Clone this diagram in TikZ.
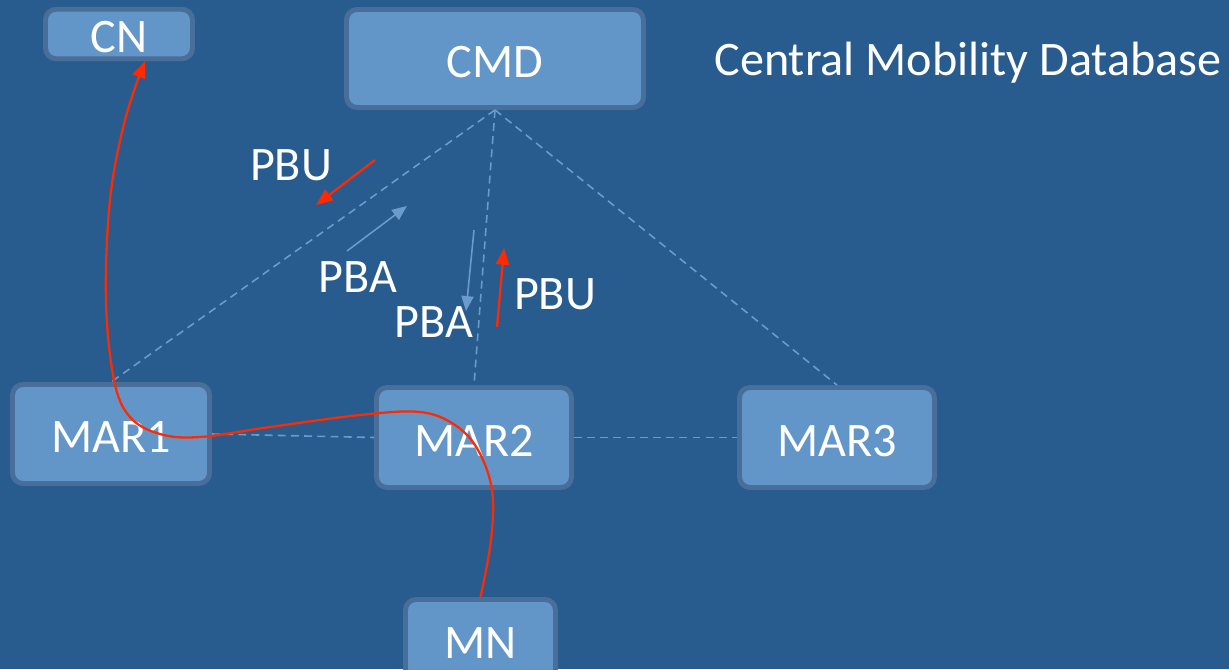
\documentclass[tikz,border=0pt]{standalone}
\usepackage{fontspec}
\setmainfont{Carlito}
\usetikzlibrary{arrows.meta}
\definecolor{bgblue}{HTML}{285C8F}
\definecolor{boxfill}{HTML}{6296C8}
\definecolor{boxline}{HTML}{4A6E9A}
\definecolor{linkblue}{HTML}{6A9BCB}
\definecolor{flowred}{HTML}{FF2A00}

\begin{document}
\begin{tikzpicture}[x=0.02cm,y=-0.02cm]
\tikzstyle{box}=[draw=boxline,fill=boxfill,line width=2.8pt,rounded corners=6pt,text=white,text height=21.5pt,text depth=0pt,font=\fontsize{27.4}{32}\selectfont]
\tikzstyle{lbl}=[text=white,inner sep=0pt,font=\fontsize{27.4}{32}\selectfont]
\tikzstyle{link}=[draw=linkblue,line width=0.9pt,dash pattern=on 4.5pt off 3pt]
\tikzstyle{redarr}=[draw=flowred,line width=1.3pt,-{Triangle[length=9.5pt,width=7.5pt]}]
\tikzstyle{bluearr}=[draw=linkblue,line width=0.9pt,-{Triangle[length=8.5pt,width=7pt]}]
\useasboundingbox (0,0) rectangle (1229,669);
\fill[bgblue] (0,0) rectangle (1229,669);
% nodes
\path (119,34) node[box,minimum width=2.94cm,minimum height=0.98cm](cn){CN}
  (495,58.5) node[box,minimum width=5.94cm,minimum height=1.96cm](cmd){CMD}
  (111,434) node[box,minimum width=3.94cm,minimum height=1.98cm](mar1){MAR1}
  (474,437.5) node[box,minimum width=3.9cm,minimum height=2cm](mar2){MAR2}
  (837,437.5) node[box,minimum width=3.9cm,minimum height=2cm](mar3){MAR3}
  (480.5,639.5) node[box,minimum width=3cm,minimum height=1.6cm](mn){MN};
\node[lbl] (cmdname) at (968,63) {Central Mobility Database};
% dashed links
\draw[link] (cmd.south) -- (mar1.north);
\draw[link] (cmd.south) -- (mar2.north);
\draw[link] (cmd.south) -- (mar3.north);
\draw[link] (mar1.east) -- (mar2.west);
\draw[link] (mar2.east) -- (mar3.west);
% messages
\node[lbl] (pbu1) at (291,165) {PBU};
\node[lbl] (pba1) at (358,277) {PBA};
\node[lbl] (pba2) at (434,322) {PBA};
\node[lbl] (pbu2) at (555,294) {PBU};
\coordinate (u1a) at (375,160); \coordinate (u1b) at (316,205);
\coordinate (a1a) at (347,251); \coordinate (a1b) at (407,206);
\coordinate (a2a) at (474,230); \coordinate (a2b) at (466,311);
\coordinate (u2a) at (497,327); \coordinate (u2b) at (504,248);
\draw[redarr] (u1a) -- (u1b);
\draw[bluearr] (a1a) -- (a1b);
\draw[bluearr] (a2a) -- (a2b);
\draw[redarr] (u2a) -- (u2b);
% data path MN -> CN
\coordinate (cntip) at ([xshift=0.52cm]cn.south);
\draw[redarr] plot[smooth,tension=0.6] coordinates {(mn.north) (491,540) (492,490) (478,450) (455,425) (420,412) (360,415) (270,427) (200,437) (160,434) (130,417) (114,380) (106,300) (110,200) (125,120) (cntip)};
\end{tikzpicture}
\end{document}
